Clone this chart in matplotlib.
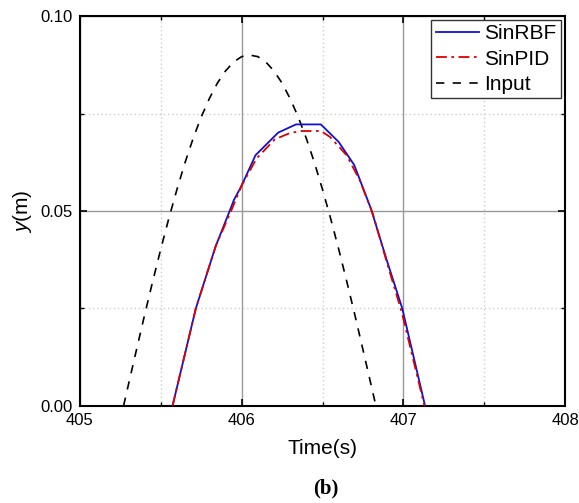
import matplotlib
matplotlib.use("Agg")
import matplotlib.pyplot as plt
from matplotlib.ticker import MultipleLocator, FormatStrFormatter

# Dados
t_rbf = [405.573, 405.717, 405.84, 405.928, 405.952, 405.994, 406.086, 406.226,
         406.336, 406.49, 406.60, 406.696, 406.80, 406.897, 406.993, 407.134]
y_rbf = [0.0, 0.025, 0.041, 0.0502, 0.0528, 0.056, 0.0643, 0.0701,
         0.0722, 0.0722, 0.0677, 0.0618, 0.0505, 0.0374, 0.025, 0.0]

t_pid = [405.573, 405.717, 405.84, 405.94, 406.0, 406.093, 406.206, 406.30,
         406.37, 406.49, 406.546, 406.649, 406.73, 406.81, 406.90, 406.99, 407.13]
y_pid = [0.0, 0.025, 0.041, 0.0505, 0.0565, 0.0635, 0.0684, 0.0700,
         0.0705, 0.0705, 0.069, 0.0643, 0.0579, 0.0494, 0.0365, 0.024, 0.0]

t_in = [405.27, 405.30, 405.35, 405.40, 405.45, 405.50, 405.55, 405.60, 405.65,
        405.70, 405.75, 405.80, 405.85, 405.90, 405.95, 406.00, 406.05,
        406.10, 406.15, 406.20, 406.25, 406.30, 406.35, 406.40, 406.45,
        406.50, 406.55, 406.60, 406.65, 406.70, 406.75, 406.80, 406.83]
y_in = [0.0, 0.0054, 0.0144, 0.0233, 0.0319, 0.0402, 0.0481, 0.0555, 0.0624,
        0.0686, 0.0741, 0.0788, 0.0828, 0.0859, 0.0882, 0.0896, 0.0900,
        0.0896, 0.0882, 0.0859, 0.0828, 0.0788, 0.0741, 0.0686, 0.0624,
        0.0555, 0.0481, 0.0402, 0.0319, 0.0233, 0.0144, 0.0054, 0.0]

plt.rcParams["font.family"] = ["Liberation Sans", "DejaVu Sans"]
plt.rcParams["mathtext.fontset"] = "custom"
plt.rcParams["mathtext.it"] = "Liberation Sans:italic"
plt.rcParams["mathtext.rm"] = "Liberation Sans"

fig = plt.figure(figsize=(5.79, 5.03), dpi=100)
ax = fig.add_axes([0.138, 0.1934, 0.838, 0.7746])

ax.plot(t_rbf, y_rbf, color="#1010d0", lw=1.3, label="SinRBF", zorder=3)
ax.plot(t_pid, y_pid, color="#dd0000", lw=1.3, ls=(0, (6, 2.5, 1.5, 2.5)),
        label="SinPID", zorder=4)
ax.plot(t_in, y_in, color="black", lw=1.2, ls=(0, (5, 5)), label="Input", zorder=2)

ax.set_xlim(405, 408)
ax.set_ylim(0, 0.10)
ax.xaxis.set_major_locator(MultipleLocator(1))
ax.xaxis.set_minor_locator(MultipleLocator(0.5))
ax.yaxis.set_major_locator(MultipleLocator(0.05))
ax.yaxis.set_minor_locator(MultipleLocator(0.025))
ax.yaxis.set_major_formatter(FormatStrFormatter("%.2f"))

ax.grid(which="major", color="#999999", lw=1.0, ls="-")
ax.grid(which="minor", color="#cccccc", lw=1.0, ls=(0, (1, 2)))
ax.set_axisbelow(True)

ax.tick_params(which="both", direction="in", top=True, right=True, labelsize=12)
ax.tick_params(which="major", length=5, width=1.2, pad=5)
ax.tick_params(which="minor", length=3, width=1.0)
for s in ax.spines.values():
    s.set_linewidth(1.5)

ax.set_xlabel("Time(s)", fontsize=15, labelpad=8)
ax.set_ylabel(r"$y$(m)", fontsize=15, labelpad=5)

leg = ax.legend(loc="upper right", fontsize=15, handlelength=2.1, borderaxespad=0.2,
                fancybox=False, framealpha=1, edgecolor="#333333",
                borderpad=0.2, labelspacing=0.3, handletextpad=0.25)
leg.get_frame().set_linewidth(1.0)

fig.text(0.562, 0.008, "(b)", fontsize=15, fontweight="bold",
         family="Liberation Serif", ha="center", va="bottom")

fig.savefig("out.png", dpi=100)
